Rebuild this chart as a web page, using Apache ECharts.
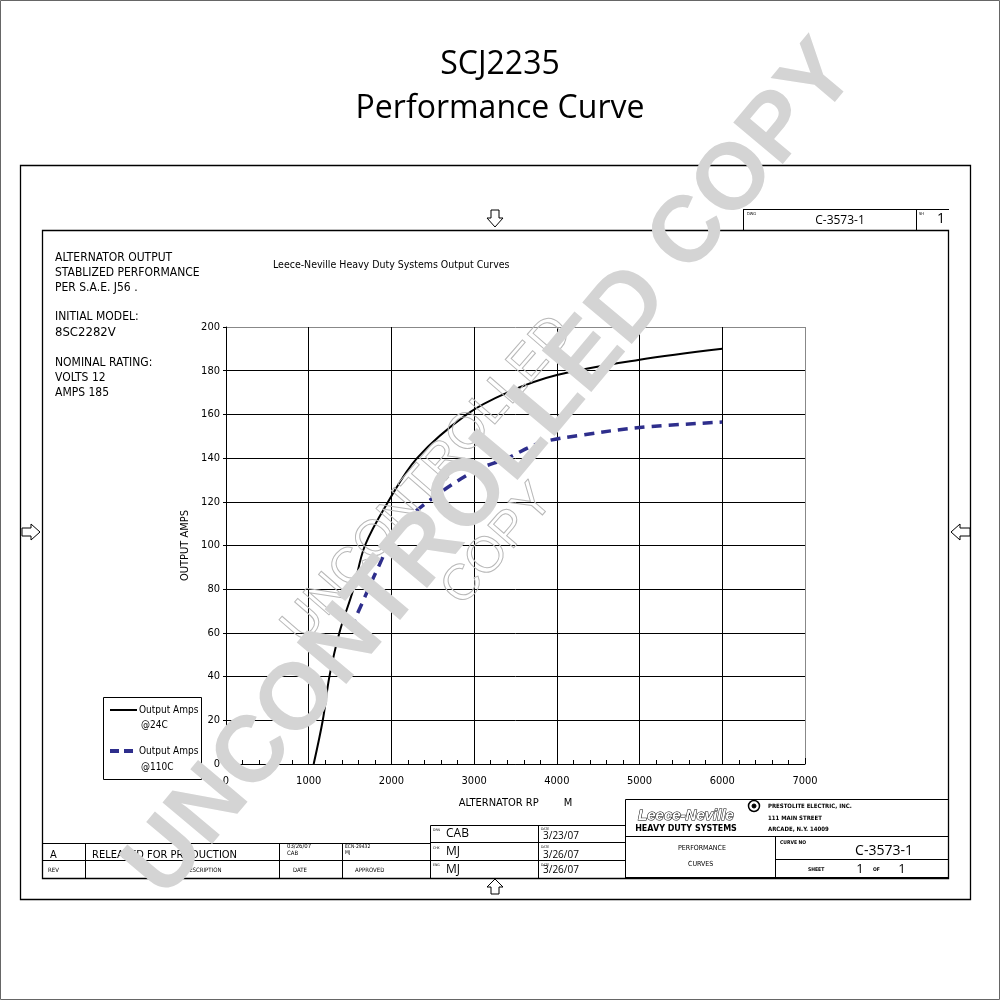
<!DOCTYPE html>
<html>
<head>
<meta charset="utf-8">
<script src="https://cdn.jsdelivr.net/npm/echarts@6/dist/echarts.min.js"></script>
<style>
html,body{margin:0;padding:0;background:#fff;}
#chart{width:1000px;height:1000px;}
</style>
</head>
<body>
<div id="chart"></div>
<script>
// ---- data ----
const rpm24 = [1060, 1170, 1250, 1370, 1540, 1680, 1960, 2310, 2910, 3400, 4000, 5000, 6000];
const amps24 = [0, 20, 40, 60, 80, 100, 120, 140, 160, 170, 178, 185, 190];
const rpm110 = [1510, 1650, 1840, 2070, 2440, 3000, 3400, 3800, 4300, 5000, 6000];
const amps110 = [62, 74, 90, 107, 120, 134, 140, 147, 150.5, 154, 156.5];
const seriesNames = ['Output Amps @24C', 'Output Amps @110C'];
const xTicks = [0, 1000, 2000, 3000, 4000, 5000, 6000, 7000];
const yTicks = [0, 20, 40, 60, 80, 100, 120, 140, 160, 180, 200];

const NARROW = '"Liberation Sans Narrow","DejaVu Sans Condensed","Liberation Sans",sans-serif';
const SANS = '"Open Sans","Noto Sans",sans-serif';

function zip(a, b) { return a.map((v, i) => [v, b[i]]); }

const chart = echarts.init(document.getElementById('chart'), null, {renderer: 'canvas'});

function txt(x, y, text, size, opts) {
  opts = opts || {};
  return {
    type: 'text', x: x, y: y, z: opts.z || 10,
    style: {
      text: text, fill: opts.fill || '#000', font: (opts.weight || 'normal') + ' ' + size + 'px ' + (opts.family || NARROW),
      align: opts.align || 'left', verticalAlign: opts.va || 'middle'
    }
  };
}
function ln(x1, y1, x2, y2, w, col) {
  return {type: 'line', z: 5, shape: {x1: x1, y1: y1, x2: x2, y2: y2}, style: {stroke: col || '#000', lineWidth: w || 1}};
}
function rc(x, y, w, h, lw, col, fill) {
  return {type: 'rect', z: 5, shape: {x: x, y: y, width: w, height: h}, style: {fill: fill || 'none', stroke: col || '#000', lineWidth: lw || 1}};
}
function poly(points) {
  return {type: 'polygon', z: 6, shape: {points: points}, style: {fill: '#fff', stroke: '#000', lineWidth: 1}};
}

const graphics = [
  // page and frames
  rc(0.5, 0.5, 999, 999, 1, '#666'),
  rc(20.5, 165.5, 950, 734, 1.3),
  rc(42.5, 230.5, 906, 648, 1.3),
  // arrows
  poly([[491,210],[499,210],[499,218],[503,218],[495,227],[487,218],[491,218]]),
  poly([[495,879],[503,887],[499,887],[499,894],[491,894],[491,887],[487,887]]),
  poly([[22,528],[31,528],[31,524],[40,532],[31,540],[31,536],[22,536]]),
  poly([[970,528],[960,528],[960,524],[951,532],[960,540],[960,536],[970,536]]),
  // top-right box
  ln(743, 209.5, 949, 209.5), ln(743.5, 209, 743.5, 230), ln(916.5, 209, 916.5, 230),
  txt(840, 221, 'C-3573-1', 12, {align: 'center', family: SANS}),
  txt(941, 219, '1', 14, {align: 'center', family: SANS}),
  txt(747, 214, 'DWG', 4), txt(919, 214, 'SH', 4),
  // left text block
  txt(55, 258, 'ALTERNATOR OUTPUT', 12),
  txt(55, 273, 'STABLIZED PERFORMANCE', 12),
  txt(55, 288, 'PER S.A.E. J56 .', 12),
  txt(55, 317, 'INITIAL MODEL:', 12),
  txt(55, 333, '8SC2282V', 13),
  txt(55, 363, 'NOMINAL RATING:', 12),
  txt(55, 378, 'VOLTS 12', 12),
  txt(55, 393, 'AMPS 185', 12),
  // legend box
  rc(103.5, 697.5, 98, 82, 1, '#000', '#fff'),
  ln(110, 710, 137, 710, 2),
  txt(139, 710, 'Output Amps', 10),
  txt(141, 725, '@24C', 10),
  {type: 'line', z: 6, shape: {x1: 110, y1: 751, x2: 138, y2: 751}, style: {stroke: '#2e2e8c', lineWidth: 4, lineDash: [9, 5]}},
  txt(139, 751, 'Output Amps', 10),
  txt(141, 767, '@110C', 10),
  // bottom-left revision block
  ln(42, 843.5, 430, 843.5), ln(42, 860.5, 430, 860.5),
  ln(85.5, 843, 85.5, 878), ln(279.5, 843, 279.5, 878), ln(342.5, 843, 342.5, 878),
  txt(50, 855, 'A', 11), txt(92, 855, 'RELEASED FOR PRODUCTION', 11),
  txt(287, 846, '03/26/07', 6), txt(287, 853, 'CAB', 6),
  txt(345, 847, 'ECN-29432', 5), txt(345, 853, 'MJ', 5),
  txt(48, 870, 'REV', 6), txt(185, 870, 'DESCRIPTION', 6),
  txt(293, 870, 'DATE', 6), txt(355, 870, 'APPROVED', 6),
  // middle signature block
  rc(430.5, 825.5, 195, 53, 1),
  ln(430, 842.5, 625, 842.5), ln(430, 860.5, 625, 860.5), ln(538.5, 825, 538.5, 878),
  txt(433, 830, 'DRN', 3.5), txt(446, 834, 'CAB', 12, {family: SANS}),
  txt(433, 848, 'CHK', 3.5), txt(446, 852, 'MJ', 12, {family: SANS}),
  txt(433, 865, 'ENG', 3.5), txt(446, 870, 'MJ', 12, {family: SANS}),
  txt(541, 829, 'DATE', 3.5), txt(543, 836, '3/23/07', 10, {family: SANS}),
  txt(541, 847, 'DATE', 3.5), txt(543, 855, '3/26/07', 10, {family: SANS}),
  txt(541, 865, 'DATE', 3.5), txt(543, 870, '3/26/07', 10, {family: SANS}),
  // right title block
  rc(625.5, 799.5, 323, 78, 1),
  ln(625, 836.5, 949, 836.5), ln(775.5, 836, 775.5, 878), ln(775, 859.5, 949, 859.5),
  {type: 'text', x: 686, y: 816, z: 10, style: {text: 'Leece-Neville', font: 'italic bold 15px "Liberation Sans",sans-serif', fill: '#fff', stroke: '#000', lineWidth: 1, align: 'center', verticalAlign: 'middle'}},
  txt(686, 829, 'HEAVY DUTY SYSTEMS', 8, {align: 'center', weight: 'bold', family: '"DejaVu Sans",sans-serif'}),
  {type: 'circle', z: 6, shape: {cx: 754, cy: 806, r: 5.5}, style: {fill: '#fff', stroke: '#000', lineWidth: 1.5}},
  {type: 'circle', z: 6, shape: {cx: 754, cy: 806, r: 2}, style: {fill: '#000', stroke: '#000', lineWidth: 1}},
  txt(768, 806, 'PRESTOLITE ELECTRIC, INC.', 6, {weight: 'bold'}),
  txt(768, 818, '111 MAIN STREET', 6, {weight: 'bold'}),
  txt(768, 829, 'ARCADE, N.Y. 14009', 6, {weight: 'bold'}),
  txt(678, 848, 'PERFORMANCE', 7),
  txt(688, 864, 'CURVES', 7),
  txt(780, 843, 'CURVE NO', 5, {weight: 'bold'}),
  txt(884, 851, 'C-3573-1', 14, {align: 'center', family: SANS}),
  txt(808, 870, 'SHEET', 5, {weight: 'bold'}),
  txt(860, 869, '1', 13, {align: 'center', family: SANS}),
  txt(873, 870, 'OF', 5, {weight: 'bold'}),
  txt(902, 869, '1', 13, {align: 'center', family: SANS}),
  // watermarks
  {type: 'text', x: 492, y: 470, rotation: 50 * Math.PI / 180, z: 100,
   style: {text: 'UNCONTROLLED COPY', font: 'bold 94px "Liberation Sans",sans-serif', fill: '#d4d4d4', align: 'center', verticalAlign: 'middle'}},
  {type: 'text', x: 428, y: 480, rotation: 49 * Math.PI / 180, z: 99,
   style: {text: 'UNCONTROLLED', font: 'normal 50px "Liberation Sans",sans-serif', fill: 'rgba(255,255,255,0)', stroke: '#b8b8b8', lineWidth: 1, align: 'center', verticalAlign: 'middle'}},
  {type: 'text', x: 498, y: 545, rotation: 49 * Math.PI / 180, z: 99,
   style: {text: 'COPY', font: 'normal 50px "Liberation Sans",sans-serif', fill: 'rgba(255,255,255,0)', stroke: '#b8b8b8', lineWidth: 1, align: 'center', verticalAlign: 'middle'}}
];

const ySplitColors = yTicks.map((v, i) => i === yTicks.length - 1 ? '#888' : '#000');
const xSplitColors = xTicks.map((v, i) => i === xTicks.length - 1 ? '#888' : '#000');

chart.setOption({
  animation: false,
  backgroundColor: '#fff',
  title: [
    {text: 'SCJ2235', left: 'center', top: 44, textStyle: {fontFamily: SANS, fontSize: 32, fontWeight: 'normal', color: '#000'}},
    {text: 'Performance Curve', left: 'center', top: 88, textStyle: {fontFamily: SANS, fontSize: 32, fontWeight: 'normal', color: '#000'}},
    {text: 'Leece-Neville Heavy Duty Systems Output Curves', left: 268, top: 255, textStyle: {fontFamily: NARROW, fontSize: 10.5, fontWeight: 'normal', color: '#000'}}
  ],
  grid: {left: 226, right: 195, top: 327, bottom: 236, containLabel: false},
  xAxis: {
    type: 'value', min: 0, max: 7000, interval: 1000,
    name: 'ALTERNATOR RP        M', nameLocation: 'middle', nameGap: 34,
    nameTextStyle: {fontFamily: NARROW, fontSize: 11, color: '#000'},
    axisLine: {show: true, lineStyle: {color: '#000', width: 1}},
    axisTick: {show: true, inside: true, length: 6, lineStyle: {color: '#000'}},
    minorTick: {show: true, splitNumber: 5, length: 4, lineStyle: {color: '#000'}},
    axisLabel: {color: '#000', fontFamily: NARROW, fontSize: 11, margin: 12, formatter: v => String(v)},
    splitLine: {show: true, lineStyle: {color: xSplitColors, width: 1}}
  },
  yAxis: {
    type: 'value', min: 0, max: 200, interval: 20,
    name: 'OUTPUT AMPS', nameLocation: 'middle', nameGap: 20, nameRotate: 90,
    nameTextStyle: {fontFamily: NARROW, fontSize: 11, color: '#000'},
    axisLine: {show: true, lineStyle: {color: '#000', width: 1}},
    axisTick: {show: true, inside: false, length: 3, lineStyle: {color: '#000'}},
    axisLabel: {color: '#000', fontFamily: NARROW, fontSize: 11, margin: 6, formatter: v => String(v)},
    splitLine: {show: true, lineStyle: {color: ySplitColors, width: 1}}
  },
  series: [
    {name: seriesNames[0], type: 'line', data: zip(rpm24, amps24), smooth: 0.35, showSymbol: false,
     lineStyle: {color: '#000', width: 2}, itemStyle: {color: '#000'}, z: 3},
    {name: seriesNames[1], type: 'line', data: zip(rpm110, amps110), smooth: 0.35, showSymbol: false,
     lineStyle: {color: '#2e2e8c', width: 3.5, type: [10, 7]}, itemStyle: {color: '#2e2e8c'}, z: 3}
  ],
  graphic: graphics
});
</script>
</body>
</html>
